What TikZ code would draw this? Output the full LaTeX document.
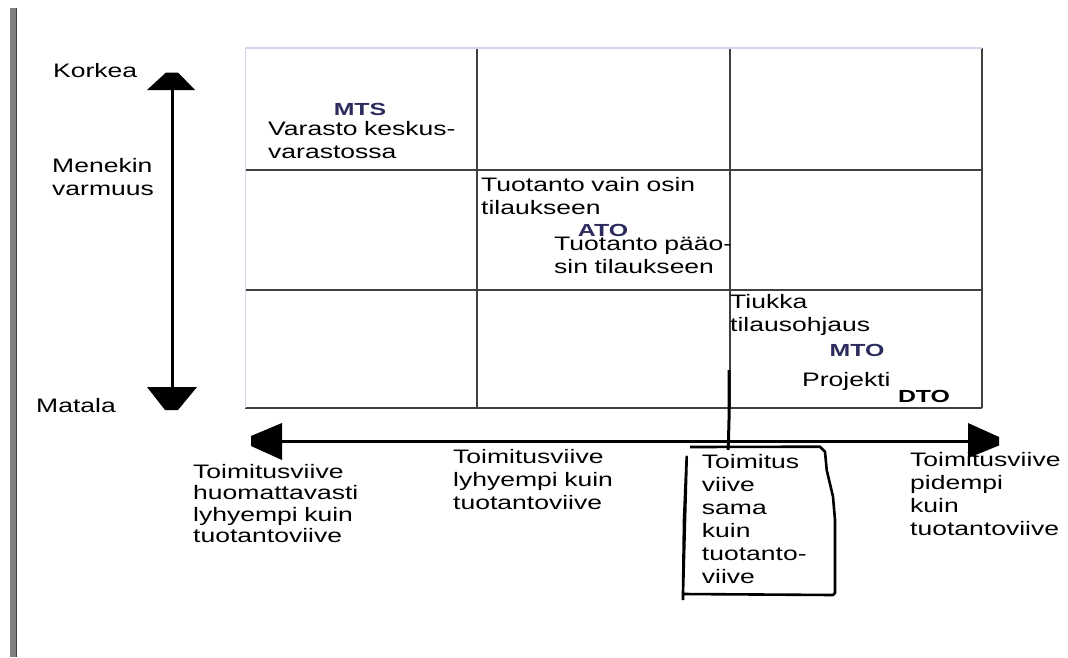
\documentclass[tikz,border=0pt]{standalone}
\usepackage{fontspec}
\newfontfamily\fnt[FakeStretch=1.36]{Liberation Sans}
\newfontfamily\fntb[FakeStretch=1.42]{Liberation Sans Bold}
\definecolor{gridc}{HTML}{404040}
\definecolor{lightc}{HTML}{D2D8EC}
\definecolor{navy}{HTML}{2B2B5E}
\begin{document}
\begin{tikzpicture}[x=1pt,y=-1pt,
  txt/.style={inner sep=0pt,anchor=base west,align=left,text width=260pt,
    font=\fnt\fontsize{19.5}{23}\selectfont},
  txtn/.style={txt,font=\fnt\fontsize{19.5}{21.5}\selectfont},
  code/.style={inner sep=0pt,anchor=base,font=\fntb\fontsize{17.5}{20}\selectfont,text=navy},
  gline/.style={draw=gridc,line width=1.5pt},
  thick arrow/.style={line width=3pt,draw=black},
  head/.style={fill=black}]
\useasboundingbox (0,0) rectangle (1068,657);
% left gray bar
\fill[gray!100] (10,8) rectangle (16,657);
\draw[line width=1pt,gridc] (16.5,8) -- (16.5,657);
% grid
\draw[gline] (245,170) -- (982,170);
\draw[gline] (245,290) -- (982,290);
\draw[gline] (477,48) -- (477,408);
\draw[gline] (730,48) -- (730,408);
\draw[gline] (245,408) -- (982,408);
\draw[draw=gridc,line width=2pt] (982,48) -- (982,408);
\draw[draw=lightc,line width=1.5pt] (245.5,408) -- (245.5,48) -- (982,48);
% texts in grid
\node[code] (mts) at (360,115) {MTS};
\node[txt] (varasto) at (268,135) {Varasto keskus-\\varastossa};
\node[txt] (osin) at (481,191.7) {Tuotanto vain osin\\tilaukseen};
\node[code] (ato) at (603,236.7) {ATO};
\node[txt] (paao) at (554,250) {Tuotanto pääo-\\sin tilaukseen};
\node[txt] (tiukka) at (730,308) {Tiukka\\tilausohjaus};
\node[code] (mto) at (857,356.7) {MTO};
\node[txt] (projekti) at (802,386.7) {Projekti};
\node[code,text=black] (dto) at (924,402.7) {DTO};
% vertical axis
\node[txt] (korkea) at (53,77) {Korkea};
\node[txt] (menekin) at (52,172) {Menekin\\varmuus};
\node[txt] (matala) at (36,412.7) {Matala};
\draw[thick arrow] (172,88) -- (172,390);
\fill[head] (147,90) -- (166,72.5) -- (178,72.5) -- (195,90) -- cycle;
\fill[head] (147,387) -- (197,387) -- (178,410) -- (165,410) -- cycle;
% bottom texts
\node[txtn] (b1) at (193,478.3) {Toimitusviive\\huomattavasti\\lyhyempi kuin\\tuotantoviive};
\node[txt] (b2) at (453,463) {Toimitusviive\\lyhyempi kuin\\tuotantoviive};
\node[txt] (b3) at (701.7,468) {Toimitus\\viive\\sama\\kuin\\tuotanto-\\viive};
\node[txt] (b4) at (910,466.7) {Toimitusviive\\pidempi\\kuin\\tuotantoviive};
% horizontal axis
\draw[thick arrow] (280,441.5) -- (970,441.5);
\fill[head] (282,423) -- (282,460) -- (251,446) -- (251,436) -- cycle;
\fill[head] (968,423) -- (999,437) -- (999,445.5) -- (968,458) -- cycle;
% hand drawn marker
\draw[line width=3pt] (729,370) -- (729,420) -- (728.5,440) -- (728,450);
\draw[line width=2.6pt,line join=round]
  (690,447) -- (820,446.7) -- (825,451.7) -- (826.7,470) -- (833,496.7)
  -- (835,520) -- (835,593) -- (833,595) -- (683,594) -- (683,600)
  (683,594) -- (684,520) -- (686.7,456.7) -- cycle;
\end{tikzpicture}
\end{document}
